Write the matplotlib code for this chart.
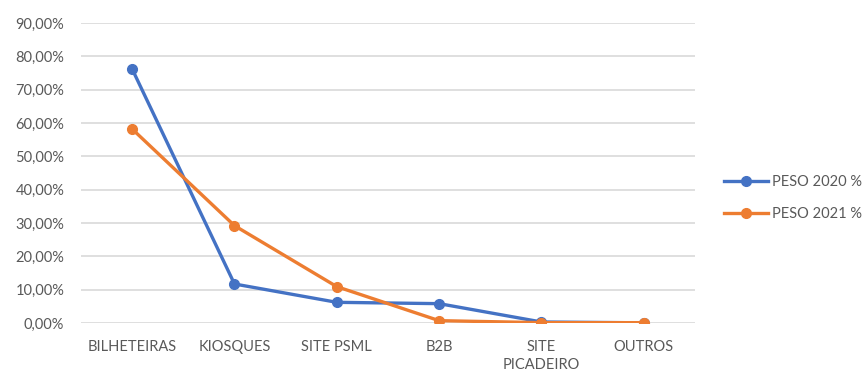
import matplotlib
matplotlib.use("Agg")
import matplotlib.pyplot as plt
from matplotlib.ticker import FuncFormatter

categories = ["BILHETEIRAS", "KIOSQUES", "SITE PSML", "B2B", "SITE\nPICADEIRO", "OUTROS"]
peso_2020 = [76.2, 11.7, 6.2, 5.8, 0.3, 0.05]
peso_2021 = [58.2, 29.2, 10.9, 0.7, 0.1, 0.1]
series_labels = ["PESO 2020 %", "PESO 2021 %"]
y_ticks = [0, 10, 20, 30, 40, 50, 60, 70, 80, 90]

plt.rcParams['font.family'] = ['Lato', 'DejaVu Sans']

fig = plt.figure(figsize=(8.67, 3.74), dpi=100)
ax = fig.add_axes([0.0934, 0.1364, 0.7082, 0.8021])

x = list(range(len(categories)))
ax.plot(x, peso_2020, color="#4472C4", lw=2.4, marker="o", ms=7,
        label=series_labels[0], zorder=3)
ax.plot(x, peso_2021, color="#ED7D31", lw=2.4, marker="o", ms=7,
        label=series_labels[1], zorder=3)

ax.set_xlim(-0.5, len(categories) - 0.5)
ax.set_ylim(0, 90)
ax.set_yticks(y_ticks)
ax.yaxis.set_major_formatter(FuncFormatter(lambda v, p: f"{v:.2f}".replace(".", ",") + "%"))
ax.set_xticks(x)
ax.set_xticklabels(categories)
ax.grid(axis="y", color="#D9D9D9", lw=1.2, zorder=0)
for s in ax.spines.values():
    s.set_visible(False)
ax.tick_params(axis="both", length=0, colors="#595959", labelsize=10.5)
ax.tick_params(axis="y", pad=12)
ax.tick_params(axis="x", pad=12)
for lbl in ax.get_xticklabels():
    lbl.set_linespacing(1.4)

leg = fig.legend(loc="center left", bbox_to_anchor=(0.820, 0.47), frameon=False,
                 fontsize=10.5, labelspacing=1.2, handlelength=3.0, handletextpad=0.3)
for t in leg.get_texts():
    t.set_color("#595959")

fig.savefig("out.png", dpi=100, facecolor="white")
